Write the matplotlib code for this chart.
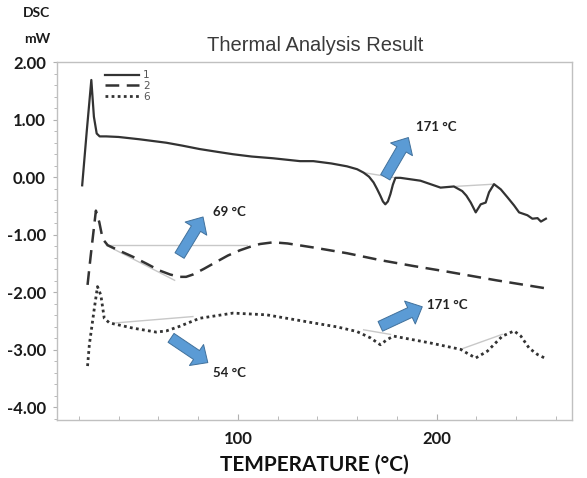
import matplotlib
matplotlib.use('Agg')
import matplotlib.pyplot as plt
from matplotlib.ticker import MultipleLocator, FormatStrFormatter

# curve 1 (solid)
t1 = [21.7, 24.0, 26.3, 27.6, 29.0, 30.5, 33.8, 40.0, 50.5, 64.0, 72.0, 80.8, 90.0, 97.6, 107.0,
      117.7, 131.3, 138.0, 147.0, 154.9, 160.0, 163.3, 166.0, 168.3, 170.0, 171.7, 173.0,
      174.2, 175.5, 176.8, 178.0, 179.3, 181.8, 191.9, 202.0, 208.7, 212.9, 215.0, 217.2,
      219.7, 222.2, 224.7, 226.4, 228.9, 232.3, 235.7, 239.0, 241.5, 245.7, 248.2, 250.8,
      252.5, 255.0]
y1 = [-0.14, 0.80, 1.69, 1.05, 0.76, 0.71, 0.71, 0.70, 0.66, 0.60, 0.55, 0.49, 0.44, 0.40, 0.36,
      0.33, 0.28, 0.28, 0.24, 0.19, 0.14, 0.08, 0.01, -0.09, -0.20, -0.32, -0.42,
      -0.47, -0.42, -0.29, -0.13, -0.01, -0.01, -0.06, -0.18, -0.16, -0.24, -0.32, -0.44,
      -0.61, -0.47, -0.44, -0.26, -0.12, -0.21, -0.35, -0.49, -0.61, -0.66, -0.72, -0.71,
      -0.77, -0.72]

# curve 2 (dashed)
t2 = [24.4, 26.0, 28.6, 30.3, 32.0, 34.5, 40.0, 47.1, 54.0, 60.6, 66.0, 70.7, 74.0,
      77.4, 83.0, 89.2, 95.0, 101.0, 106.0, 111.1, 117.8, 125.0, 138.0, 155.0, 171.7,
      188.0, 205.4, 230.0, 255.0]
y2 = [-1.87, -1.36, -0.58, -0.78, -1.07, -1.18, -1.27, -1.38, -1.50, -1.62, -1.69, -1.73, -1.73,
      -1.69, -1.59, -1.47, -1.36, -1.27, -1.21, -1.16, -1.13, -1.15, -1.22, -1.32, -1.44,
      -1.54, -1.64, -1.79, -1.93]

# curve 6 (dotted)
t6 = [24.4, 25.3, 27.8, 29.4, 31.1, 32.8, 35.4, 47.1, 58.9, 64.0, 70.7, 80.8, 97.6, 114.5,
      131.3, 138.0, 150.0, 159.9, 166.7, 171.7, 175.1, 178.4, 197.0, 212.1, 216.0, 219.7,
      225.6, 233.1, 239.0, 242.4, 246.6, 250.8, 255.0]
y6 = [-3.28, -2.91, -2.28, -1.90, -2.05, -2.45, -2.53, -2.62, -2.69, -2.67, -2.59, -2.45, -2.36, -2.39,
      -2.49, -2.53, -2.60, -2.68, -2.79, -2.91, -2.82, -2.76, -2.88, -2.99, -3.07, -3.14,
      -3.02, -2.76, -2.67, -2.76, -2.97, -3.08, -3.15]

# baselines (light grey)
baselines = [([163.3, 179.3], [0.08, -0.01]),
             ([208.7, 228.9], [-0.16, -0.12]),
             ([33.8, 104.5], [-1.17, -1.17]),
             ([34.3, 68.2], [-1.19, -1.79]),
             ([38.7, 77.4], [-2.53, -2.42]),
             ([163.3, 176.8], [-2.65, -2.73]),
             ([212.0, 233.0], [-2.99, -2.73])]

# peak labels: text, arrow tail, arrow head, text position
labels = ['171 °C', '69 °C', '54 °C', '171 °C']
tails = [(174.2, 0.0), (70.7, -1.36), (66.4, -2.79), (171.7, -2.59)]
heads = [(185.8, 0.69), (82.5, -0.69), (84.9, -3.22), (192.8, -2.25)]
text_pos = [(189.4, 0.88), (87.4, -0.60), (87.4, -3.40), (195.3, -2.22)]

bold = ['Lato', 'DejaVu Sans']

fig = plt.figure(figsize=(5.87, 4.78), dpi=100)
ax = fig.add_axes([0.097, 0.121, 0.877, 0.749])

for bx, by in baselines:
    ax.plot(bx, by, color='#c8c8c8', lw=1.0)

ax.plot(t1, y1, color='#333333', lw=1.6, ls='-', label='1')
ax.plot(t2, y2, color='#333333', lw=1.8, ls=(0, (5.5, 3)), label='2')
ax.plot(t6, y6, color='#333333', lw=2.0, ls=(0, (1, 1.2)), label='6')

for lab, tl, hd, tp in zip(labels, tails, heads, text_pos):
    ax.annotate('', xy=hd, xytext=tl,
                arrowprops=dict(arrowstyle='simple,head_length=0.7,head_width=1.3,tail_width=0.55',
                                fc='#5b9bd5', ec='#41719c', lw=0.7,
                                shrinkA=0, shrinkB=0, mutation_scale=14))
    ax.text(tp[0], tp[1], lab, fontsize=9.5, fontweight='bold', family=bold,
            color='#222222', va='center', ha='left')

ax.set_xlim(9, 268)
ax.set_ylim(-4.22, 2.0)

ax.xaxis.set_major_locator(MultipleLocator(100))
ax.xaxis.set_minor_locator(MultipleLocator(20))
ax.yaxis.set_major_locator(MultipleLocator(1))
ax.yaxis.set_minor_locator(MultipleLocator(0.2))
ax.yaxis.set_major_formatter(FormatStrFormatter('%.2f'))

for s in ax.spines.values():
    s.set_color('#c0c0c0')
    s.set_linewidth(1.0)

ax.tick_params(axis='both', which='both', color='#b0b0b0', labelcolor='#1a1a1a')
ax.tick_params(axis='x', which='major', direction='in', length=4, pad=8)
ax.tick_params(axis='x', which='minor', direction='in', length=3)
ax.tick_params(axis='y', which='major', direction='out', length=3, pad=5)
ax.tick_params(axis='y', which='minor', direction='out', length=2)
for lb in ax.get_xticklabels() + ax.get_yticklabels():
    lb.set_fontweight('bold')
    lb.set_family(bold)
    lb.set_fontsize(12)

ax.set_xlabel('TEMPERATURE (°C)', fontsize=15, fontweight='bold', family=bold,
              color='#111111', labelpad=5)

fig.text(0.537, 0.905, 'Thermal Analysis Result', fontsize=14.5, family=['Liberation Sans'],
         color='#3a3a3a', ha='center', va='center')
fig.text(0.063, 0.972, 'DSC', fontsize=10, fontweight='bold', family=bold,
         color='#1a1a1a', ha='center', va='center')
fig.text(0.063, 0.918, 'mW', fontsize=10, fontweight='bold', family=bold,
         color='#1a1a1a', ha='center', va='center')

leg = ax.legend(loc='upper left', bbox_to_anchor=(0.078, 1.0), frameon=False,
                fontsize=7.5, handlelength=3.2, handletextpad=0.4, labelspacing=0.05,
                borderaxespad=0.4)
for tx in leg.get_texts():
    tx.set_color('#555555')

fig.savefig('out.png', dpi=100)
